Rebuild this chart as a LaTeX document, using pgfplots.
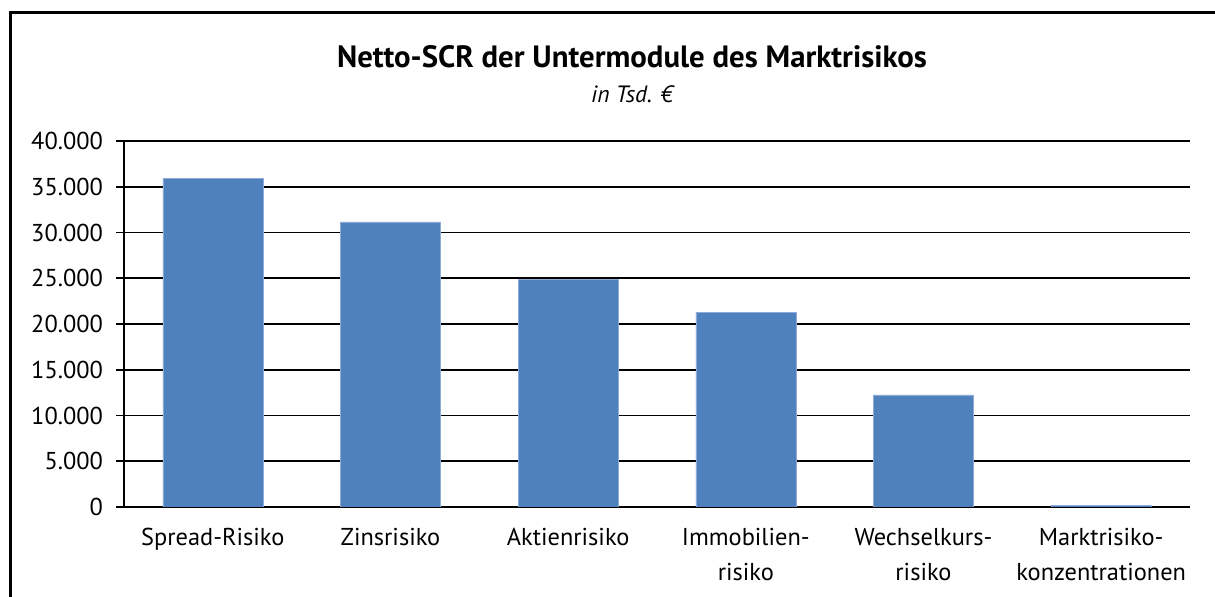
\documentclass[border=0pt]{standalone}
\usepackage{pgfplots}
\pgfplotsset{compat=1.18}
\usepackage{fontspec}
\setmainfont{PT Sans}
\definecolor{barblue}{HTML}{4F81BD}
\definecolor{baredge}{HTML}{8EAADB}
\begin{document}
\begin{tikzpicture}
\useasboundingbox (0,0) rectangle (607.5pt,298.5pt);
\draw[line width=1.1pt] (5.2pt,-1pt) -- (5.2pt,292.2pt) -- (609pt,292.2pt);
\node[font=\fontsize{15.4}{18}\selectfont\bfseries] at (316pt,270pt) {Netto-SCR der Untermodule des Marktrisikos};
\node[font=\fontsize{11.8}{14}\selectfont\itshape] at (316pt,251.5pt) {in Tsd. €};
\begin{axis}[
  at={(62pt,45pt)}, anchor=south west,
  scale only axis, width=533pt, height=183pt,
  xmin=-0.5, xmax=5.5, ymin=0, ymax=40000,
  ytick={0,5000,...,40000},
  /pgf/number format/.cd, assume math mode=true, use comma, 1000 sep={.},
  /pgfplots/.cd,
  scaled y ticks=false,
  axis x line*=bottom, axis y line*=left,
  axis line style={black, line width=0.9pt},
  ymajorgrids, grid style={black, line width=0.9pt},
  tick style={black, line width=0.9pt},
  tick align=outside,
  major tick length=4pt,
  xtick={0,...,5},
  xticklabels={Spread-Risiko,Zinsrisiko,Aktienrisiko,Immobilien-\\risiko,Wechselkurs-\\risiko,Marktrisiko-\\konzentrationen},
  xtick style={draw=none},
  minor xtick={-0.5,0.5,...,5.5},
  minor tick length=4pt,
  minor x tick style={black, line width=0.9pt},
  xticklabel style={align=center, font=\fontsize{12.2}{17.5}\selectfont, yshift=-3pt},
  yticklabel style={font=\fontsize{12.2}{14}\selectfont, xshift=-3pt},
  ybar, bar width=50pt,
]
\addplot[fill=barblue, draw=baredge, line width=0.3pt] coordinates {
  (0,35950) (1,31150) (2,24900) (3,21300) (4,12250) (5,150)
};
\end{axis}
\end{tikzpicture}
\end{document}
